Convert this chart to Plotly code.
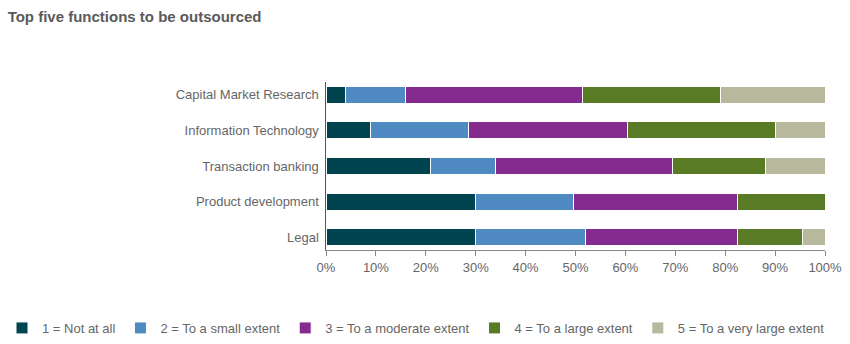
import plotly.graph_objects as go

categories = ["Legal", "Product development", "Transaction banking",
              "Information Technology", "Capital Market Research"]
series_names = ["1 = Not at all", "2 = To a small extent", "3 = To a moderate extent",
                "4 = To a large extent", "5 = To a very large extent"]
# values per series, in category order (Legal ... Capital Market Research)
not_at_all = [30, 30, 21, 9, 4]
small_extent = [22, 19.5, 13, 19.5, 12]
moderate_extent = [30.5, 33, 35.5, 32, 35.5]
large_extent = [13, 17.5, 18.5, 29.5, 27.5]
very_large_extent = [4.5, 0, 12, 10, 21]
tick_values = [0, 10, 20, 30, 40, 50, 60, 70, 80, 90, 100]
tick_labels = [f"{v}%" for v in tick_values]

colors = ["#00444f", "#508ac2", "#852a8f", "#5a7b25", "#b8b99c"]
series = [not_at_all, small_extent, moderate_extent, large_extent, very_large_extent]

fig = go.Figure()
for name, vals, col in zip(series_names, series, colors):
    fig.add_trace(go.Bar(
        y=categories, x=vals, name=name, orientation="h",
        marker=dict(color=col, line=dict(color="white", width=1)),
    ))

font_main = "Liberation Sans, Arial, sans-serif"
plot_l, plot_r, plot_t, plot_b = 326, 25, 82, 94
plot_w = 850 - plot_l - plot_r
plot_h = 344 - plot_t - plot_b
fig.update_layout(
    barmode="stack",
    bargap=0.52,
    width=850, height=344,
    margin=dict(l=plot_l, r=plot_r, t=plot_t, b=plot_b, autoexpand=False),
    paper_bgcolor="white", plot_bgcolor="white",
    font=dict(family=font_main, size=13, color="#666666"),
    title=dict(text="<b>Top five functions to be outsourced</b>",
               xref="container", yref="container", x=0.009, xanchor="left",
               y=1 - 17 / 344, yanchor="middle",
               font=dict(family=font_main, size=15, color="#5a5a5a")),
    legend=dict(orientation="h", xref="paper", yref="paper",
                x=(2 - plot_l) / plot_w, xanchor="left",
                y=-(328 - (plot_t + plot_h)) / plot_h, yanchor="middle",
                font=dict(family=font_main, size=13, color="#666666"),
                itemwidth=30, tracegroupgap=0,
                traceorder="normal", itemclick=False),
    showlegend=True,
)
fig.update_xaxes(range=[0, 100], tickvals=tick_values, ticktext=tick_labels,
                 showgrid=False, zeroline=False, showline=True, linecolor="#888888",
                 linewidth=1, ticks="outside", ticklen=5, tickcolor="#888888",
                 tickfont=dict(size=13, color="#666666"))
fig.update_yaxes(categoryorder="array", categoryarray=categories,
                 range=[-0.36, 4.36], showgrid=False, zeroline=False,
                 showline=True, linecolor="#555555", linewidth=1, ticks="",
                 ticksuffix=" ", tickfont=dict(size=13, color="#666666"))

fig.write_html("out.html")
